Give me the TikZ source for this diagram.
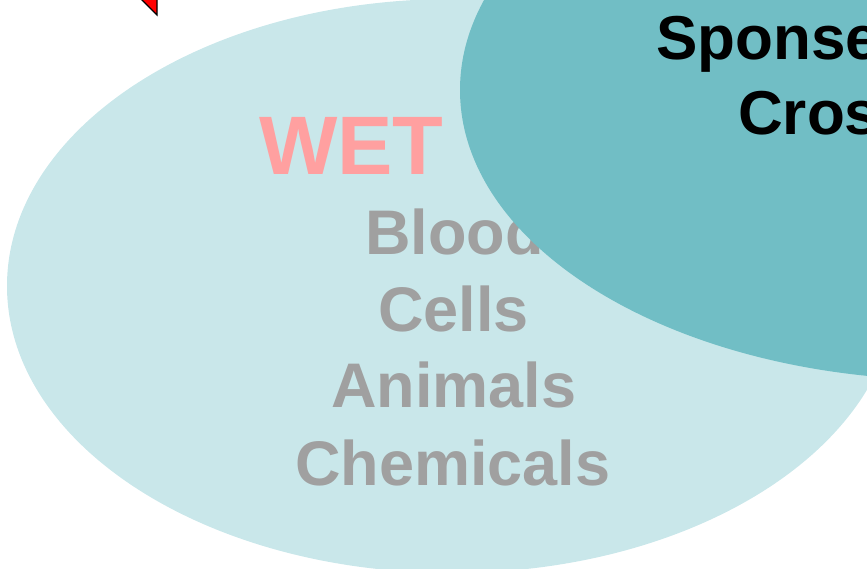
\documentclass[tikz,border=0pt]{standalone}
\usepackage{fontspec}
\setmainfont{Liberation Sans}
\definecolor{lightset}{HTML}{C9E7EA}
\definecolor{darkset}{HTML}{71BEC5}
\definecolor{wetpink}{HTML}{FFA0A0}
\definecolor{itemgrey}{HTML}{A0A0A0}
\begin{document}
\begin{tikzpicture}[x=1pt,y=-1pt,
  item/.style={anchor=base west,inner sep=0pt,font=\bfseries\fontsize{63}{63}\selectfont,text=itemgrey},
  title/.style={anchor=base west,inner sep=0pt,font=\bfseries\fontsize{62}{62}\selectfont,text=black}]
\useasboundingbox (0,0) rectangle (867,569);
\clip (0,0) rectangle (867,569);
\fill[lightset] (452,286) ellipse [x radius=445, y radius=287];
\draw[fill=red,draw=black,line width=1.2pt,line join=miter] (141,-1) -- (157,15) -- (157,-1);
\node[anchor=base west,inner sep=0pt,font=\bfseries\fontsize{83}{83}\selectfont,text=wetpink] (wet) at (259,175) {WET};
\node[item] (blood) at (365,255) {Blood};
\node[item] (cells) at (378,331) {Cells};
\node[item] (animals) at (331,407) {Animals};
\node[item] (chem) at (295,485) {Chemicals};
\fill[darkset] (950,90) ellipse [x radius=490, y radius=290];
\node[title] (sponse) at (656,60) {Sponse};
\node[title] (cros) at (738,135) {Cros};
\end{tikzpicture}
\end{document}
